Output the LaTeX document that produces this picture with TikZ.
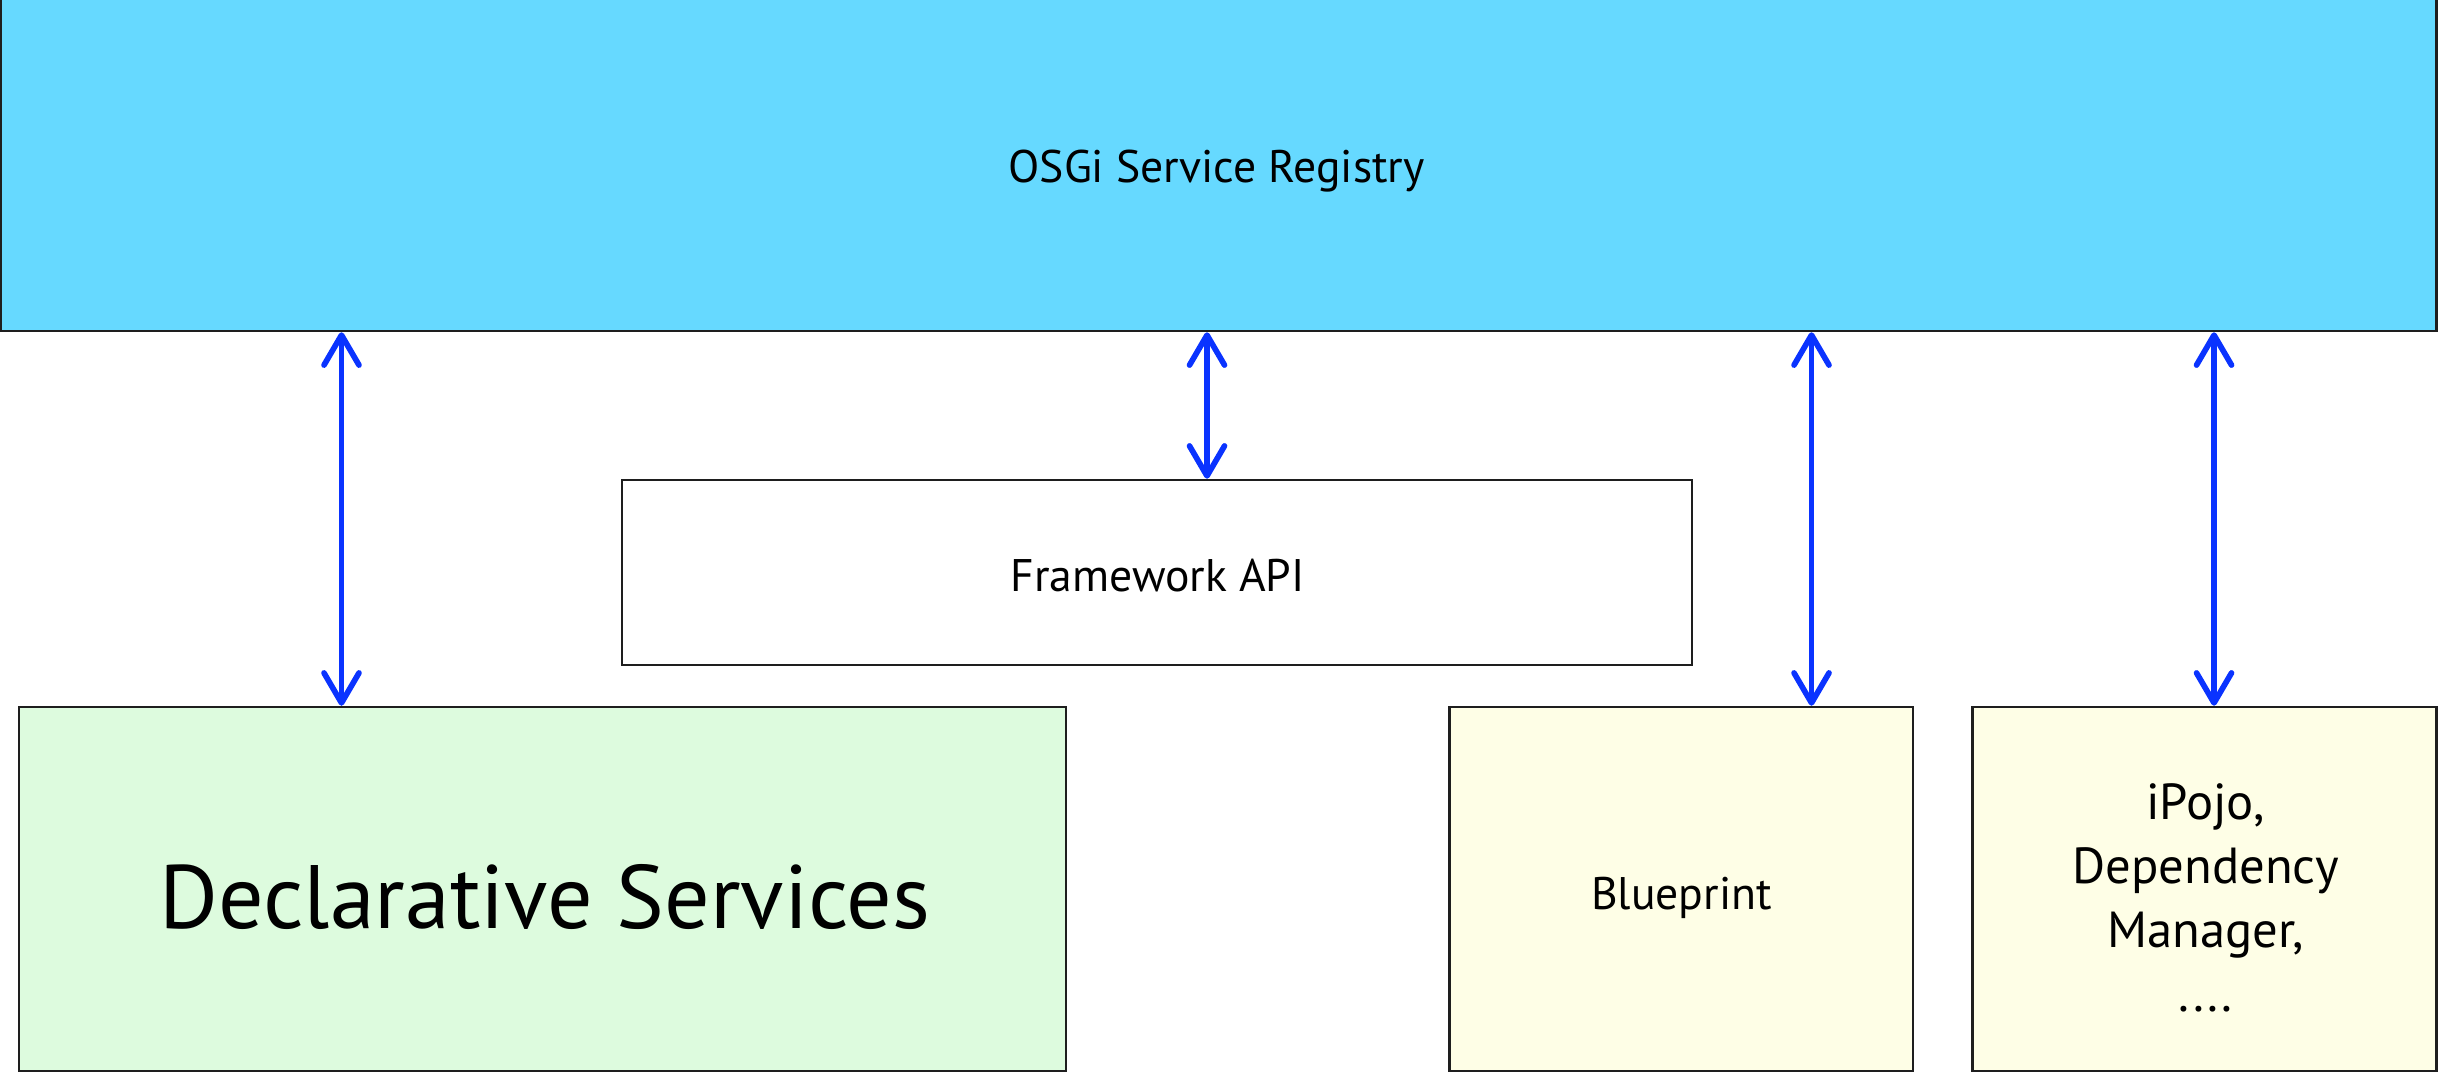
\documentclass[tikz,border=0pt]{standalone}
\usepackage{fontspec}
\setmainfont{PT Sans}
\usetikzlibrary{arrows.meta}

\definecolor{registry}{RGB}{102,217,255}
\definecolor{dsgreen}{RGB}{221,251,222}
\definecolor{pale}{RGB}{254,254,230}
\definecolor{linkblue}{RGB}{10,51,255}
\definecolor{edge}{RGB}{30,30,30}

\tikzset{
  block/.style={draw=edge, line width=0.75pt, inner sep=0pt, rectangle},
  label/.style={inner sep=0pt, font=\fontsize{13.7pt}{19.2pt}\selectfont, text=black},
  stacklabel/.style={inner sep=0pt, align=center, font=\fontsize{15.2pt}{19.2pt}\selectfont, text=black},
  biglabel/.style={inner sep=0pt, font=\fontsize{27pt}{32pt}\selectfont, text=black},
  link/.style={draw=linkblue, line width=1.7pt,
    {Straight Barb[length=9pt, width=10.5pt, round]}-{Straight Barb[length=9pt, width=10.5pt, round]}}
}

\begin{document}
\begin{tikzpicture}[x=0.3pt, y=-0.3pt]
  \useasboundingbox (0,0) rectangle (2438,1073);

  % boxes
  \node[block, fill=registry, minimum width=2436*0.3pt, minimum height=341*0.3pt] (reg) at (1218.5,160.5) {};
  \node[block, fill=white, minimum width=1070*0.3pt, minimum height=185*0.3pt] (fw) at (1157,572.5) {};
  \node[block, fill=dsgreen, minimum width=1047*0.3pt, minimum height=364*0.3pt] (ds) at (542.5,889) {};
  \node[block, fill=pale, minimum width=463.5*0.3pt, minimum height=364*0.3pt] (bp) at (1681.25,889) {};
  \node[block, fill=pale, minimum width=464*0.3pt, minimum height=364*0.3pt] (ip) at (2204.5,889) {};

  % texts
  \node[label, anchor=base] (regt) at (1216.5,183) {OSGi Service Registry};
  \node[label, anchor=base] (fwt) at (1157.5,591.7) {Framework API};
  \node[biglabel, anchor=base] (dst) at (545,928) {Declarative Services};
  \node[label, anchor=base] (bpt) at (1681.5,909) {Blueprint};
  \node[stacklabel] (ipt) at (2205.5,898) {iPojo,\\Dependency\\Manager,\\....};

  % columns of the connectors
  \coordinate (c1) at (341.5,0);
  \coordinate (c2) at (1207,0);
  \coordinate (c3) at (1811.5,0);
  \coordinate (c4) at (2214,0);

  \draw[link] (reg.south -| c1) -- (ds.north -| c1);
  \draw[link] (reg.south -| c2) -- (fw.north -| c2);
  \draw[link] (reg.south -| c3) -- (bp.north -| c3);
  \draw[link] (reg.south -| c4) -- (ip.north -| c4);
\end{tikzpicture}
\end{document}
